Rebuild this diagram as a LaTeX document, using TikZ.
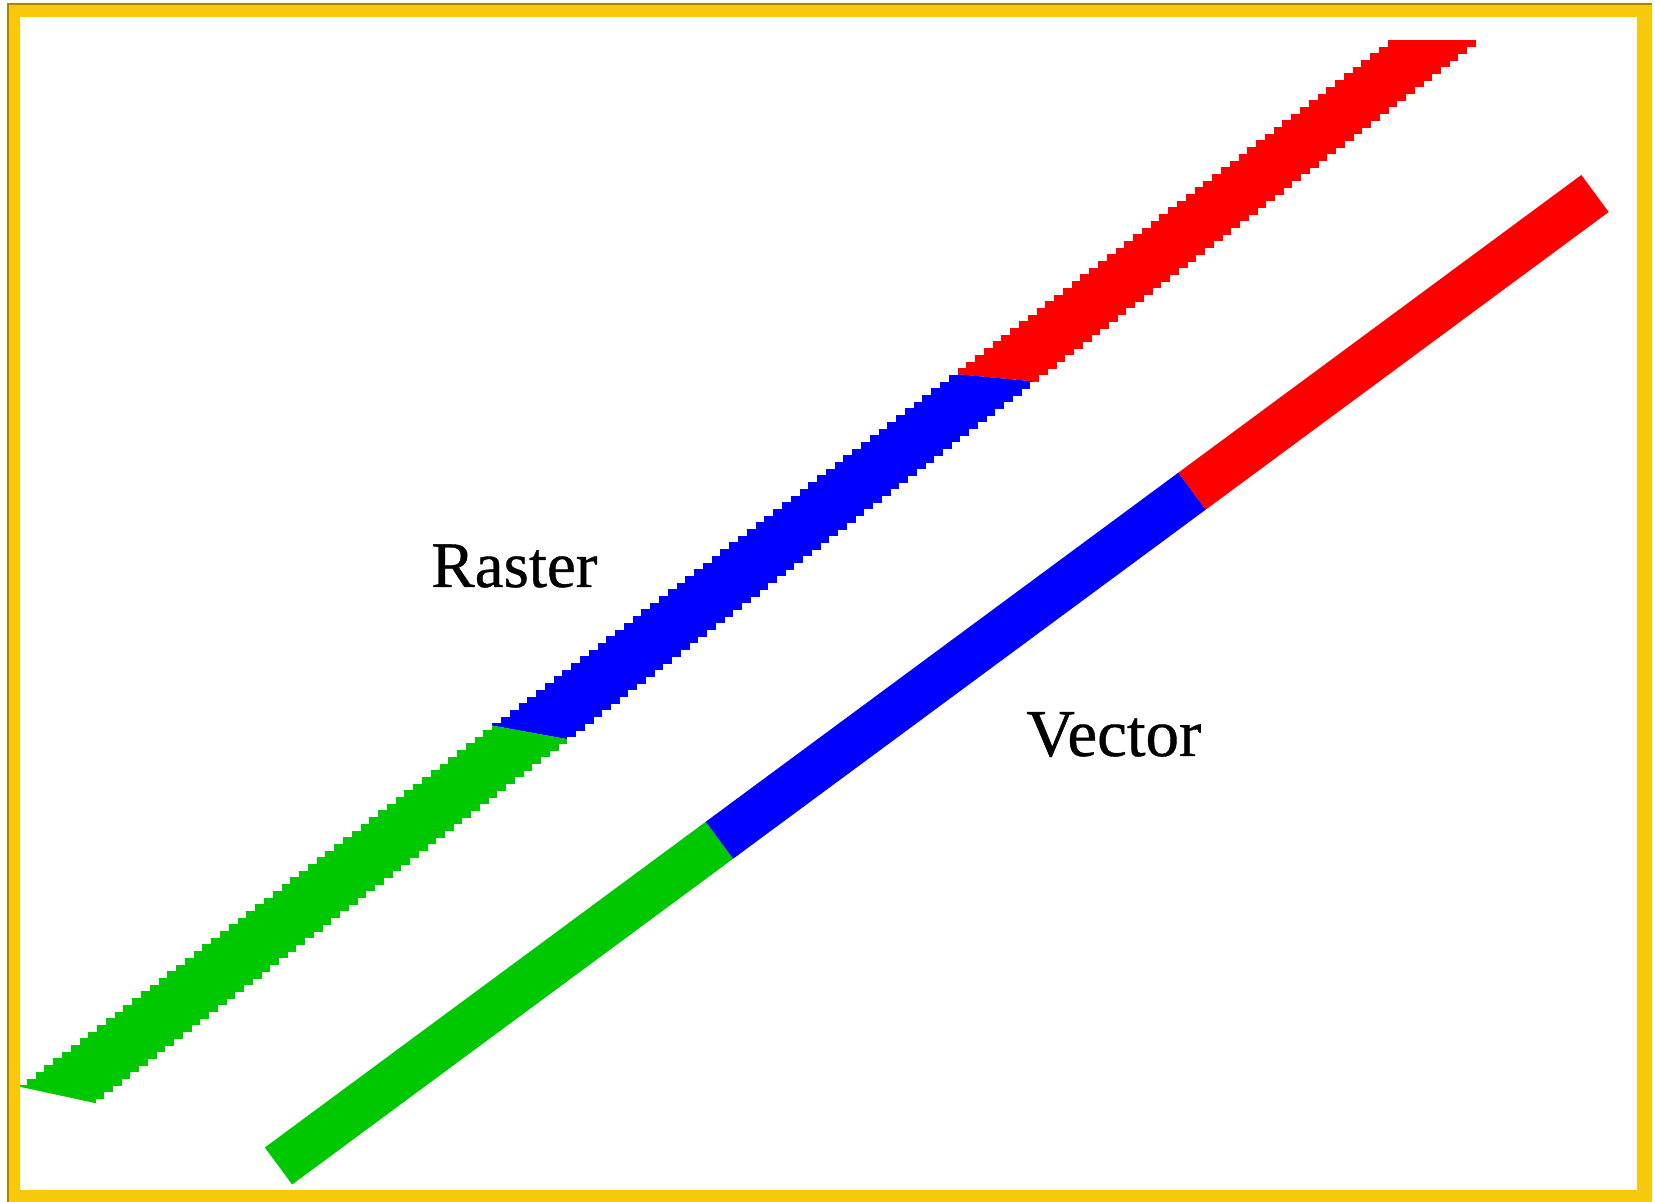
\documentclass[tikz,border=0pt]{standalone}
\usepackage{fontspec}
\setmainfont{Liberation Serif}
\newfontfamily\lblfont[FakeBold=0.6]{Liberation Serif}
\definecolor{rgreen}{RGB}{0,200,0}
\definecolor{rblue}{RGB}{0,0,255}
\definecolor{rred}{RGB}{255,0,0}
\definecolor{framegold}{RGB}{248,200,10}
\definecolor{framedark}{RGB}{170,130,20}
\newcommand\rasterrows{%
  \foreach \i in {0,...,160}{%
    \pgfmathsetmacro\ya{40+6.7*\i}%
    \pgfmathsetmacro\yb{\ya+7.2}%
    \pgfmathsetmacro\xl{21+(1083-\ya)*1.3104}%
    \pgfmathsetmacro\xr{95+(1099-\ya)*1.304}%
    \fill (\xl,\ya) rectangle (\xr,\yb);
  }}
\tikzset{
  vbar/.style={line width=23pt, line cap=butt},
  lbl/.style={inner sep=0pt, anchor=base west, text=black}
}
\begin{document}
\begin{tikzpicture}[x=0.5pt,y=-0.5pt]
\useasboundingbox (0,0) rectangle (1655,1202);
\fill[white] (0,0) rectangle (1655,1202);
% raster bar
\begin{scope}
  \clip (0,0) -- (1655,0) -- (1655,440.2) -- (0,283.6) -- cycle;
  \begin{scope}[rred]\rasterrows\end{scope}
\end{scope}
\begin{scope}
  \clip (0,283.6) -- (1655,440.2) -- (1655,935) -- (0,637) -- cycle;
  \begin{scope}[rblue]\rasterrows\end{scope}
\end{scope}
\begin{scope}
  \clip (0,637) -- (1655,935) -- (1655,1440) -- (0,1082.5) -- cycle;
  \begin{scope}[rgreen]\rasterrows\end{scope}
\end{scope}
% vector bar
\coordinate (v0) at (278.5,1166);
\coordinate (v1) at (719.5,840.2);
\coordinate (v2) at (1192.1,491.1);
\coordinate (v3) at (1595,193.5);
\draw[vbar, rgreen] (v0) -- (v1);
\draw[vbar, rblue] (v1) -- (v2);
\draw[vbar, rred] (v2) -- (v3);
% labels
\node[lbl, font=\lblfont\fontsize{32.5}{34}\selectfont] (raster) at (431,587) {Raster};
\node[lbl, font=\lblfont\fontsize{33.5}{35}\selectfont] (vector) at (1026,756) {Vector};
% frame
\fill[framegold, even odd rule] (7,3) rectangle (1652,1202) (20,17) rectangle (1637,1190);
\draw[framedark, line width=1pt] (7.8,1202) -- (7.8,3.8) -- (1652,3.8);
\end{tikzpicture}
\end{document}
